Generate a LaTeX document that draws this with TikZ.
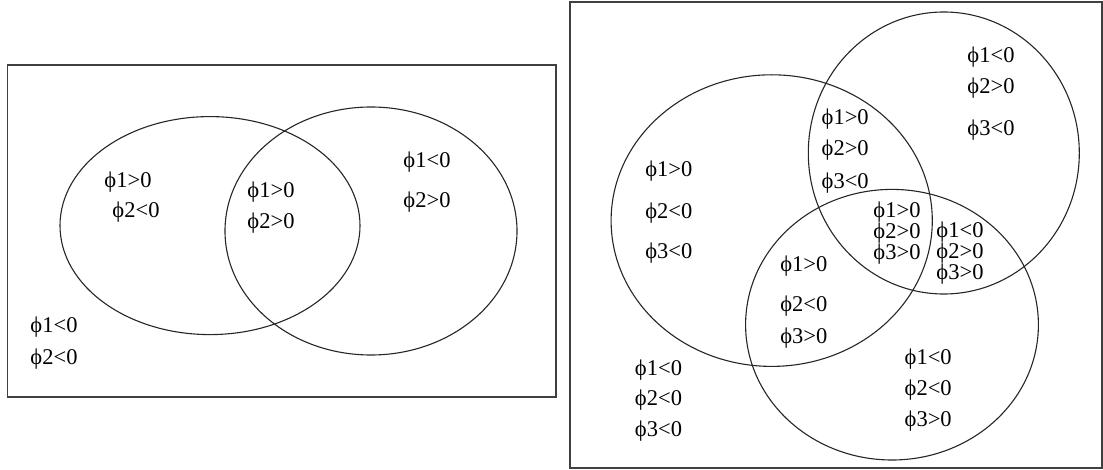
\documentclass[tikz,border=0pt]{standalone}
\usepackage{fontspec}
\setmainfont{Liberation Serif}
\usepackage{tikz}
\begin{document}
\begin{tikzpicture}[x=1pt,y=-1pt,
    frame/.style={draw=black!75,line width=1.2pt},
    set/.style={draw=black!85,line width=1.1pt},
    lbl/.style={inner sep=0pt,font=\fontsize{22.5}{22.5}\selectfont},
    stack/.style={lbl,align=left,font=\fontsize{22.5}{19.5}\selectfont}]
  \useasboundingbox (0,0) rectangle (1103,470);
  % left panel: two sets
  \draw[frame] (7.5,65) rectangle (556,397);
  \draw[set] (210,225.6) ellipse [x radius=150,y radius=109];
  \draw[set] (371,231) ellipse [x radius=146,y radius=124];
  \foreach \x/\y/\t [count=\i] in {
      128/181.8/ϕ1>0, 136/211.8/ϕ2<0,
      271/191.8/ϕ1>0, 271/223.5/ϕ2>0,
      427/161.8/ϕ1<0, 427/201.8/ϕ2>0,
      54/327/ϕ1<0, 54/358.7/ϕ2<0} {
    \node[lbl] (l\i) at (\x,\y) {\t};
  }
  % right panel: three sets
  \draw[frame] (570,2) rectangle (1102,468);
  \draw[set] (771.7,220.6) ellipse [x radius=160.6,y radius=145.8];
  \draw[set] (943.8,153) ellipse [x radius=135.5,y radius=141];
  \draw[set] (892,324.7) ellipse [x radius=146.4,y radius=135.3];
  \foreach \x/\y/\t [count=\i] in {
      991/57.4/ϕ1<0, 991/88.2/ϕ2>0, 991/130.2/ϕ3<0,
      845.2/119.2/ϕ1>0, 845.2/150/ϕ2>0, 845.2/182.7/ϕ3<0,
      668.8/171/ϕ1>0, 668.8/213.4/ϕ2<0, 668.8/253.5/ϕ3<0,
      803.8/266.2/ϕ1>0, 803.8/306.3/ϕ2<0, 803.8/338/ϕ3>0,
      928.2/358.7/ϕ1<0, 928.2/389.8/ϕ2<0, 928.2/421.5/ϕ3>0,
      658.5/369.7/ϕ1<0, 658.5/400.5/ϕ2<0, 658.5/431.5/ϕ3<0} {
    \node[lbl] (r\i) at (\x,\y) {\t};
  }
  \node[stack] (abc) at (897,233) {ϕ1>0\\ϕ2>0\\ϕ3>0};
  \node[stack] (bc) at (960,253) {ϕ1<0\\ϕ2>0\\ϕ3>0};
\end{tikzpicture}
\end{document}
